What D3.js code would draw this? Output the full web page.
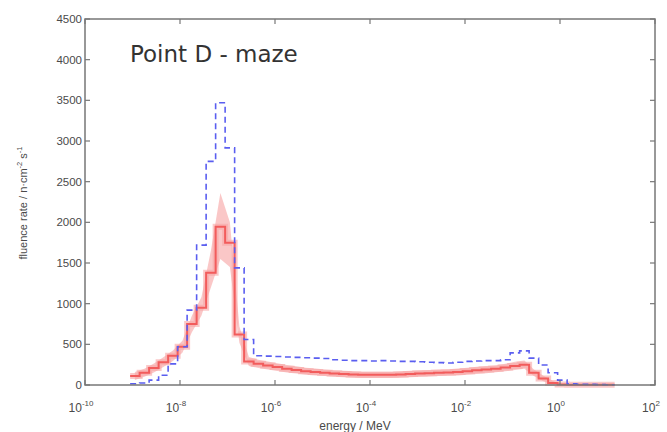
<!DOCTYPE html>
<html>
<head>
<meta charset="utf-8">
<script src="https://cdn.jsdelivr.net/npm/d3@7"></script>
<style>
  body { margin: 0; background: #fff; }
  text { font-family: "Liberation Sans", "DejaVu Sans", sans-serif; fill: #4a4a4a; }
</style>
</head>
<body>
<div id="chart"></div>
<script>
// histogram bin edges, log10(energy / MeV)
var logBinEdges = [-9.05,-8.85,-8.65,-8.45,-8.25,-8.05,-7.85,-7.65,-7.45,-7.25,-7.05,-6.85,-6.65,-6.45,-6.25,-6.05,
    -5.85,-5.65,-5.45,-5.25,-5.05,-4.85,-4.65,-4.45,-4.25,-4.05,-3.85,-3.65,-3.45,-3.25,-3.05,-2.85,-2.65,-2.45,
    -2.25,-2.05,-1.85,-1.65,-1.45,-1.25,-1.05,-0.85,-0.65,-0.45,-0.25,-0.05,0.15,0.35,0.55,0.75,0.95,1.15];

// dashed blue spectrum
var blueValues = [15,25,60,120,260,470,920,1720,2750,3470,2915,1440,560,360,355,350,345,340,335,330,325,310,305,300,
    300,295,300,295,290,290,285,280,275,270,280,290,295,300,300,310,395,420,330,245,150,60,15,10,8,5,3];

// red spectrum and its band
var redValues = [110,150,210,280,360,470,750,950,1380,1945,1750,620,290,260,240,220,200,185,170,160,150,140,135,130,
    125,125,125,125,130,135,140,145,150,155,160,170,180,190,200,215,235,250,150,80,25,5,2,2,2,2,2];
var redLow = [60,100,155,220,295,395,650,850,1200,1550,1450,520,235,210,190,172,155,140,127,118,110,100,95,90,
    86,86,86,86,90,95,100,105,110,115,118,127,136,146,156,168,185,200,110,45,5,0,0,0,0,0,0];
var redHigh = [160,200,265,340,425,545,850,1080,1650,2360,2000,720,345,310,290,268,245,230,213,202,190,180,175,170,
    164,164,164,164,170,175,180,185,190,195,202,213,224,234,244,262,285,300,190,115,50,10,4,4,4,4,4];

var xTickExps = [-10,-8,-6,-4,-2,0,2];
var yTicks = [0,500,1000,1500,2000,2500,3000,3500,4000,4500];

var width = 667, height = 432;
var plot = {left: 85, right: 655, top: 19, bottom: 385};

var x = d3.scaleLog().domain([1e-10, 1e2]).range([plot.left, plot.right]);
var y = d3.scaleLinear().domain([0, 4500]).range([plot.bottom, plot.top]);

var svg = d3.select("#chart").append("svg").attr("width", width).attr("height", height);

function stepPoints(values) {
    var pts = values.map(function(v, i) { return [Math.pow(10, logBinEdges[i]), v]; });
    pts.push([Math.pow(10, logBinEdges[values.length]), values[values.length - 1]]);
    return pts;
}
function centerOf(i) { return Math.pow(10, (logBinEdges[i] + logBinEdges[i + 1]) / 2); }

var stepLine = d3.line().x(function(d){ return x(d[0]); }).y(function(d){ return y(d[1]); })
    .curve(d3.curveStepAfter);

// red band
var band = d3.area()
    .x(function(d, i){ return x(centerOf(i)); })
    .y0(function(d, i){ return y(redLow[i]); })
    .y1(function(d, i){ return y(redHigh[i]); });
svg.append("path").attr("d", band(redValues)).attr("fill", "#f9bdbd").attr("opacity", 0.85);

// thick pale stroke under the red line
svg.append("path").attr("d", stepLine(stepPoints(redValues))).attr("fill", "none")
    .attr("stroke", "#f7a5a5").attr("stroke-width", 6).attr("stroke-opacity", 0.6);
svg.append("path").attr("d", stepLine(stepPoints(redValues))).attr("fill", "none")
    .attr("stroke", "#f25c5c").attr("stroke-width", 2);

// blue dashed
svg.append("path").attr("d", stepLine(stepPoints(blueValues))).attr("fill", "none")
    .attr("stroke", "#5a5ef0").attr("stroke-width", 1.6).attr("stroke-dasharray", "6,4");

// frame
svg.append("rect").attr("x", plot.left).attr("y", plot.top)
    .attr("width", plot.right - plot.left).attr("height", plot.bottom - plot.top)
    .attr("fill", "none").attr("stroke", "#777").attr("stroke-width", 1.5);

// ticks inside the frame
var g = svg.append("g").attr("stroke", "#777").attr("stroke-width", 1.2);
xTickExps.forEach(function(e) {
    var tx = x(Math.pow(10, e));
    g.append("line").attr("x1", tx).attr("x2", tx).attr("y1", plot.bottom).attr("y2", plot.bottom - 5);
    g.append("line").attr("x1", tx).attr("x2", tx).attr("y1", plot.top).attr("y2", plot.top + 5);
});
yTicks.forEach(function(t) {
    g.append("line").attr("x1", plot.left).attr("x2", plot.left + 5).attr("y1", y(t)).attr("y2", y(t));
    g.append("line").attr("x1", plot.right).attr("x2", plot.right - 5).attr("y1", y(t)).attr("y2", y(t));
});

// tick labels
yTicks.forEach(function(t) {
    svg.append("text").text(t).attr("x", plot.left - 3).attr("y", y(t)).attr("dy", "0.35em")
        .attr("text-anchor", "end").attr("font-size", 11.5);
});
xTickExps.forEach(function(e) {
    var t = svg.append("text").attr("x", x(Math.pow(10, e)) - 4).attr("y", 412)
        .attr("text-anchor", "middle").attr("font-size", 12);
    t.append("tspan").text("10");
    t.append("tspan").text(e).attr("font-size", 8).attr("dy", -6);
});

// axis labels
svg.append("text").text("energy / MeV").attr("x", 355).attr("y", 430)
    .attr("text-anchor", "middle").attr("font-size", 12);
var yl = svg.append("text").attr("transform", "translate(27,203) rotate(-90)")
    .attr("text-anchor", "middle").attr("font-size", 11);
yl.append("tspan").text("fluence rate / n\u00b7cm");
yl.append("tspan").text("-2").attr("font-size", 7.5).attr("dy", -5);
yl.append("tspan").text(" s").attr("font-size", 11).attr("dy", 5);
yl.append("tspan").text("-1").attr("font-size", 7.5).attr("dy", -5);

// title
svg.append("text").text("Point D - maze").attr("x", 130).attr("y", 62)
    .attr("font-size", 23).style("fill", "#333")
    .style("font-family", "'DejaVu Sans', sans-serif");
</script>
</body>
</html>
